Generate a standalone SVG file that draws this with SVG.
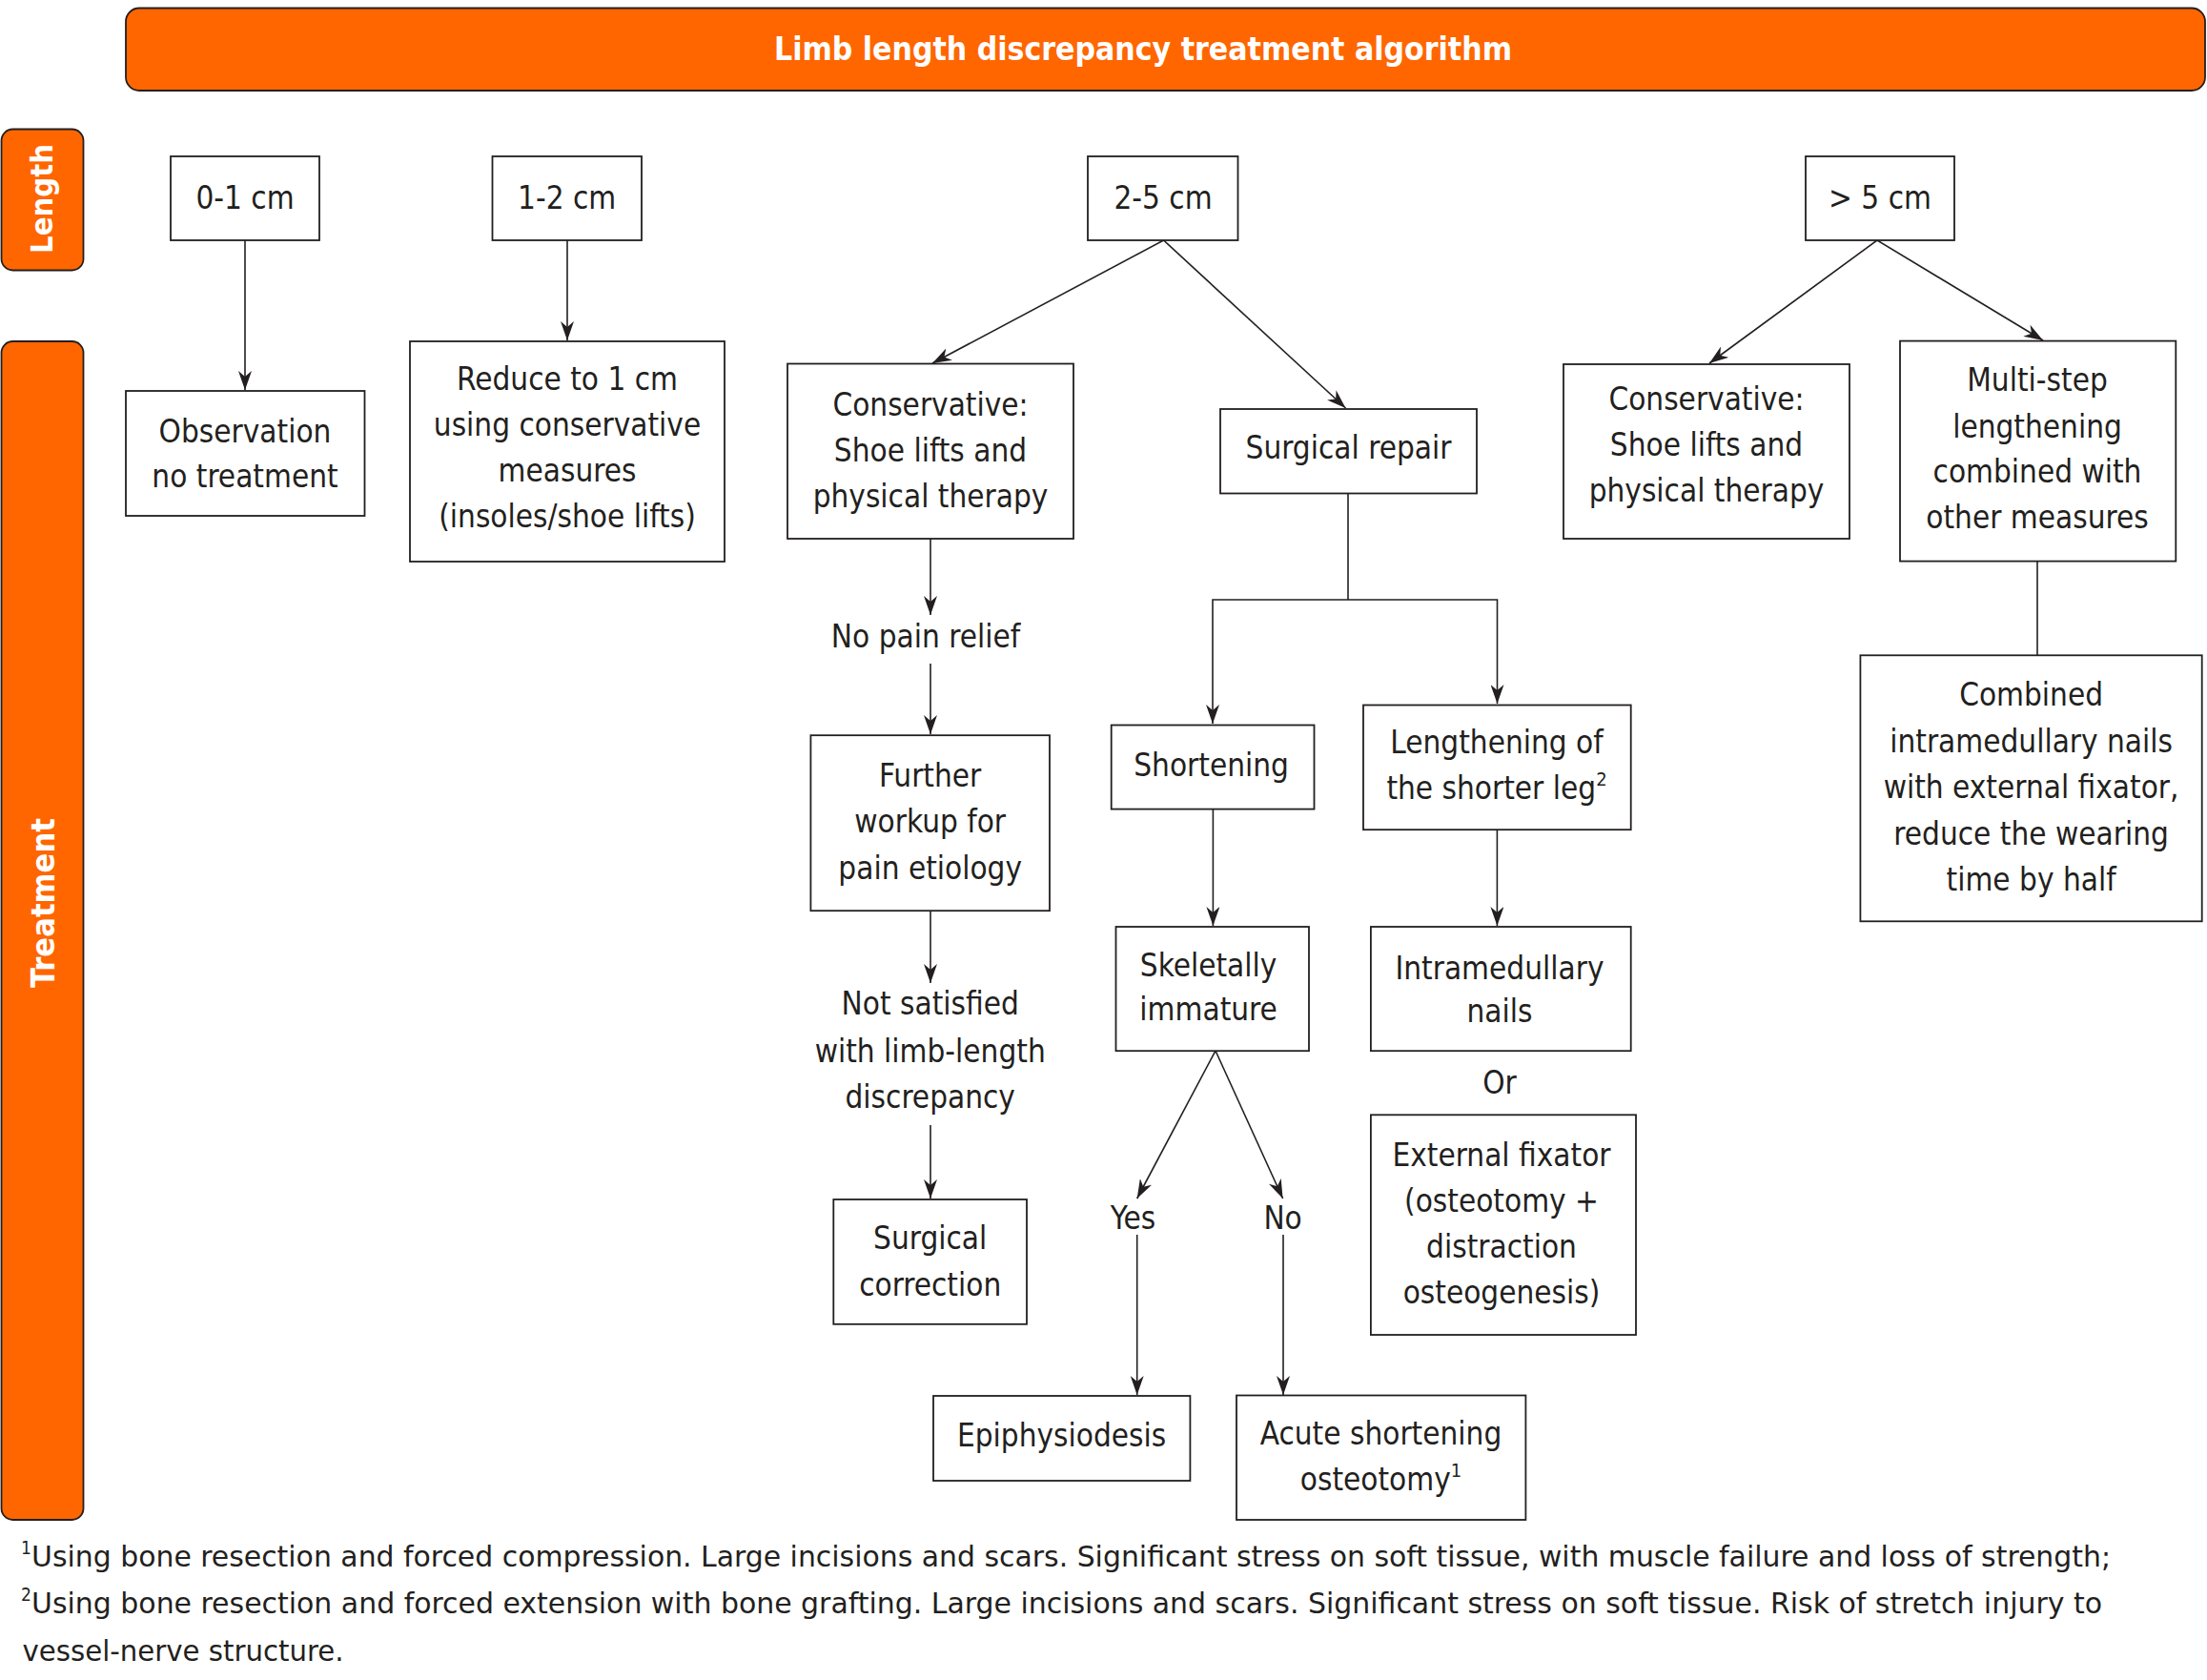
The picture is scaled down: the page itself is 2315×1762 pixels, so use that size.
<svg xmlns="http://www.w3.org/2000/svg" width="2315" height="1762" viewBox="0 0 2315 1762">
<defs>
<style>
.box{fill:#ffffff;stroke:#231f20;stroke-width:1.8}
.tab{fill:#ff6600;stroke:#231f20;stroke-width:1.8}
.t{font-family:"DejaVu Sans Condensed","DejaVu Sans",sans-serif;font-stretch:condensed;font-size:33px;fill:#231f20;text-anchor:middle}
.sup{font-size:20px}
.w{font-family:"DejaVu Sans Condensed","DejaVu Sans",sans-serif;font-stretch:condensed;font-weight:bold;fill:#ffffff;text-anchor:middle}
.fn{font-family:"DejaVu Sans Condensed","DejaVu Sans",sans-serif;font-stretch:condensed;font-size:31px;fill:#231f20}
.fs{font-family:"DejaVu Sans Condensed","DejaVu Sans",sans-serif;font-stretch:condensed;font-size:19px;fill:#231f20}
.c{stroke:#231f20;stroke-width:1.6;fill:none}
.a{marker-end:url(#ah)}
</style>
<marker id="ah" markerUnits="userSpaceOnUse" viewBox="0 0 20 14" refX="20" refY="7" markerWidth="20" markerHeight="14" orient="auto">
<path d="M0,0 L20,7 L0,14 L6,7 Z" fill="#231f20"/>
</marker>
</defs>
<rect width="2315" height="1762" fill="#ffffff"/>

<g id="title">
<rect class="tab" x="132" y="8.5" width="2181" height="86.5" rx="14"/>
<text class="w" x="1199" y="63" font-size="34" textLength="774" lengthAdjust="spacingAndGlyphs">Limb length discrepancy treatment algorithm</text>
</g>

<g id="tab-length">
<rect class="tab" x="1.5" y="135.5" width="86" height="148" rx="12"/>
<text class="w" transform="translate(55,208.5) rotate(-90)" x="0" y="0" font-size="32" textLength="115" lengthAdjust="spacingAndGlyphs">Length</text>
</g>

<g id="tab-treatment">
<rect class="tab" x="1.5" y="358" width="86" height="1236" rx="12"/>
<text class="w" transform="translate(56.5,947) rotate(-90)" x="0" y="0" font-size="34" textLength="178" lengthAdjust="spacingAndGlyphs">Treatment</text>
</g>

<g id="connectors">
<line class="c a" x1="257" y1="252" x2="257" y2="409"/>
<line class="c a" x1="595" y1="252" x2="595" y2="357"/>
<line class="c a" x1="1220.6" y1="252" x2="978" y2="381"/>
<line class="c a" x1="1220.6" y1="252" x2="1411.5" y2="428"/>
<line class="c a" x1="1969" y1="252" x2="1793" y2="381"/>
<line class="c a" x1="1969" y1="252" x2="2143" y2="357"/>
<line class="c a" x1="976" y1="565" x2="976" y2="645"/>
<line class="c a" x1="976" y1="696" x2="976" y2="770"/>
<line class="c a" x1="976" y1="955" x2="976" y2="1031"/>
<line class="c a" x1="976" y1="1180" x2="976" y2="1257"/>
<polyline class="c" points="1414,517.5 1414,629"/>
<polyline class="c a" points="1414,629 1272,629 1272,759"/>
<polyline class="c a" points="1414,629 1570.5,629 1570.5,738"/>
<line class="c a" x1="1272.4" y1="848.6" x2="1272.4" y2="971"/>
<line class="c a" x1="1275" y1="1102" x2="1192.7" y2="1257"/>
<line class="c a" x1="1275" y1="1102" x2="1345.6" y2="1257"/>
<line class="c a" x1="1192.7" y1="1295" x2="1192.7" y2="1463"/>
<line class="c a" x1="1346" y1="1295" x2="1346" y2="1463"/>
<line class="c a" x1="1570.4" y1="870" x2="1570.4" y2="971"/>
<line class="c" x1="2137" y1="589" x2="2137" y2="687"/>
</g>

<g id="n-0-1">
<rect class="box" x="179" y="164" width="156" height="88"/>
<text class="t" x="257" y="219">0-1 cm</text>
</g>
<g id="n-1-2">
<rect class="box" x="516.5" y="164" width="156.5" height="88"/>
<text class="t" x="594.7" y="219">1-2 cm</text>
</g>
<g id="n-2-5">
<rect class="box" x="1141" y="164" width="157.5" height="88"/>
<text class="t" x="1220" y="219">2-5 cm</text>
</g>
<g id="n-gt5">
<rect class="box" x="1894" y="164" width="156" height="88"/>
<text class="t" x="1972" y="219">&gt; 5 cm</text>
</g>

<g id="n-observation">
<rect class="box" x="132" y="410" width="250.5" height="131"/>
<text class="t"><tspan x="257" y="463.8">Observation</tspan><tspan x="257" y="510.9">no treatment</tspan></text>
</g>

<g id="n-reduce">
<rect class="box" x="430" y="358" width="330" height="231"/>
<text class="t"><tspan x="595" y="408.7">Reduce to 1 cm</tspan><tspan x="595" y="456.5">using conservative</tspan><tspan x="595" y="505">measures</tspan><tspan x="595" y="553">(insoles/shoe lifts)</tspan></text>
</g>

<g id="n-conservative-1">
<rect class="box" x="826" y="381.5" width="300" height="183.5"/>
<text class="t"><tspan x="976" y="435.5">Conservative:</tspan><tspan x="976" y="484">Shoe lifts and</tspan><tspan x="976" y="532">physical therapy</tspan></text>
</g>

<g id="n-surgical-repair">
<rect class="box" x="1280" y="429" width="269" height="88.5"/>
<text class="t" x="1414.5" y="481.4">Surgical repair</text>
</g>

<g id="n-conservative-2">
<rect class="box" x="1640" y="382" width="300" height="183"/>
<text class="t"><tspan x="1790" y="430">Conservative:</tspan><tspan x="1790" y="478.4">Shoe lifts and</tspan><tspan x="1790" y="526">physical therapy</tspan></text>
</g>

<g id="n-multistep">
<rect class="box" x="1993" y="357.6" width="289.3" height="231"/>
<text class="t"><tspan x="2137" y="410">Multi-step</tspan><tspan x="2137" y="459">lengthening</tspan><tspan x="2137" y="506.4">combined with</tspan><tspan x="2137" y="554">other measures</tspan></text>
</g>

<g id="n-combined">
<rect class="box" x="1951.4" y="687.3" width="358.3" height="279"/>
<text class="t"><tspan x="2130.6" y="739.8">Combined</tspan><tspan x="2130.6" y="788.8">intramedullary nails</tspan><tspan x="2130.6" y="837.3">with external fixator,</tspan><tspan x="2130.6" y="885.7">reduce the wearing</tspan><tspan x="2130.6" y="933.5">time by half</tspan></text>
</g>

<g id="n-no-pain-relief">
<text class="t" x="971" y="679">No pain relief</text>
</g>

<g id="n-further">
<rect class="box" x="850.4" y="771.2" width="250.6" height="184"/>
<text class="t"><tspan x="975.7" y="824.6">Further</tspan><tspan x="975.7" y="873.2">workup for</tspan><tspan x="975.7" y="921.7">pain etiology</tspan></text>
</g>

<g id="n-not-satisfied">
<text class="t"><tspan x="975.7" y="1064.4">Not satisfied</tspan><tspan x="975.7" y="1113.6">with limb-length</tspan><tspan x="975.7" y="1161.5">discrepancy</tspan></text>
</g>

<g id="n-surgical-correction">
<rect class="box" x="874.3" y="1258" width="202.7" height="130.8"/>
<text class="t"><tspan x="975.7" y="1310.2">Surgical</tspan><tspan x="975.7" y="1359.4">correction</tspan></text>
</g>

<g id="n-shortening">
<rect class="box" x="1165.7" y="760.5" width="212.8" height="88.1"/>
<text class="t" x="1270.6" y="813.8">Shortening</text>
</g>

<g id="n-skeletally">
<rect class="box" x="1170.5" y="972" width="202.5" height="130.2"/>
<text class="t"><tspan x="1267.6" y="1023.6">Skeletally</tspan><tspan x="1267.6" y="1070.4">immature</tspan></text>
</g>

<g id="n-yes">
<text class="t" x="1188.5" y="1288.6">Yes</text>
</g>
<g id="n-no">
<text class="t" x="1345.6" y="1288.6">No</text>
</g>

<g id="n-epiphysiodesis">
<rect class="box" x="979" y="1464" width="269.4" height="89"/>
<text class="t" x="1113.6" y="1516.7">Epiphysiodesis</text>
</g>

<g id="n-acute">
<rect class="box" x="1297" y="1463.5" width="303.4" height="130.5"/>
<text class="t"><tspan x="1448.5" y="1515">Acute shortening</tspan><tspan x="1448.5" y="1562.7">osteotomy<tspan class="sup" dy="-14">1</tspan></tspan></text>
</g>

<g id="n-lengthening">
<rect class="box" x="1430" y="739.5" width="280.7" height="130.7"/>
<text class="t"><tspan x="1570" y="789.8">Lengthening of</tspan><tspan x="1570" y="837.8">the shorter leg<tspan class="sup" dy="-14">2</tspan></tspan></text>
</g>

<g id="n-intramedullary">
<rect class="box" x="1437.9" y="972" width="272.8" height="130.2"/>
<text class="t"><tspan x="1573" y="1026.6">Intramedullary</tspan><tspan x="1573" y="1071.6">nails</tspan></text>
</g>

<g id="n-or">
<text class="t" x="1573" y="1146.5">Or</text>
</g>

<g id="n-external">
<rect class="box" x="1437.9" y="1169.3" width="278.1" height="230.7"/>
<text class="t"><tspan x="1575" y="1222.7">External fixator</tspan><tspan x="1575" y="1270.6">(osteotomy +</tspan><tspan x="1575" y="1318.6">distraction</tspan><tspan x="1575" y="1366.6">osteogenesis)</tspan></text>
</g>

<g id="footnotes">
<text class="fs" x="22" y="1630">1</text>
<text class="fn" x="33" y="1643" textLength="2181" lengthAdjust="spacingAndGlyphs">Using bone resection and forced compression. Large incisions and scars. Significant stress on soft tissue, with muscle failure and loss of strength;</text>
<text class="fs" x="22" y="1679">2</text>
<text class="fn" x="33" y="1692" textLength="2172" lengthAdjust="spacingAndGlyphs">Using bone resection and forced extension with bone grafting. Large incisions and scars. Significant stress on soft tissue. Risk of stretch injury to</text>
<text class="fn" x="23.5" y="1741.5" textLength="337" lengthAdjust="spacingAndGlyphs">vessel-nerve structure.</text>
</g>
</svg>
